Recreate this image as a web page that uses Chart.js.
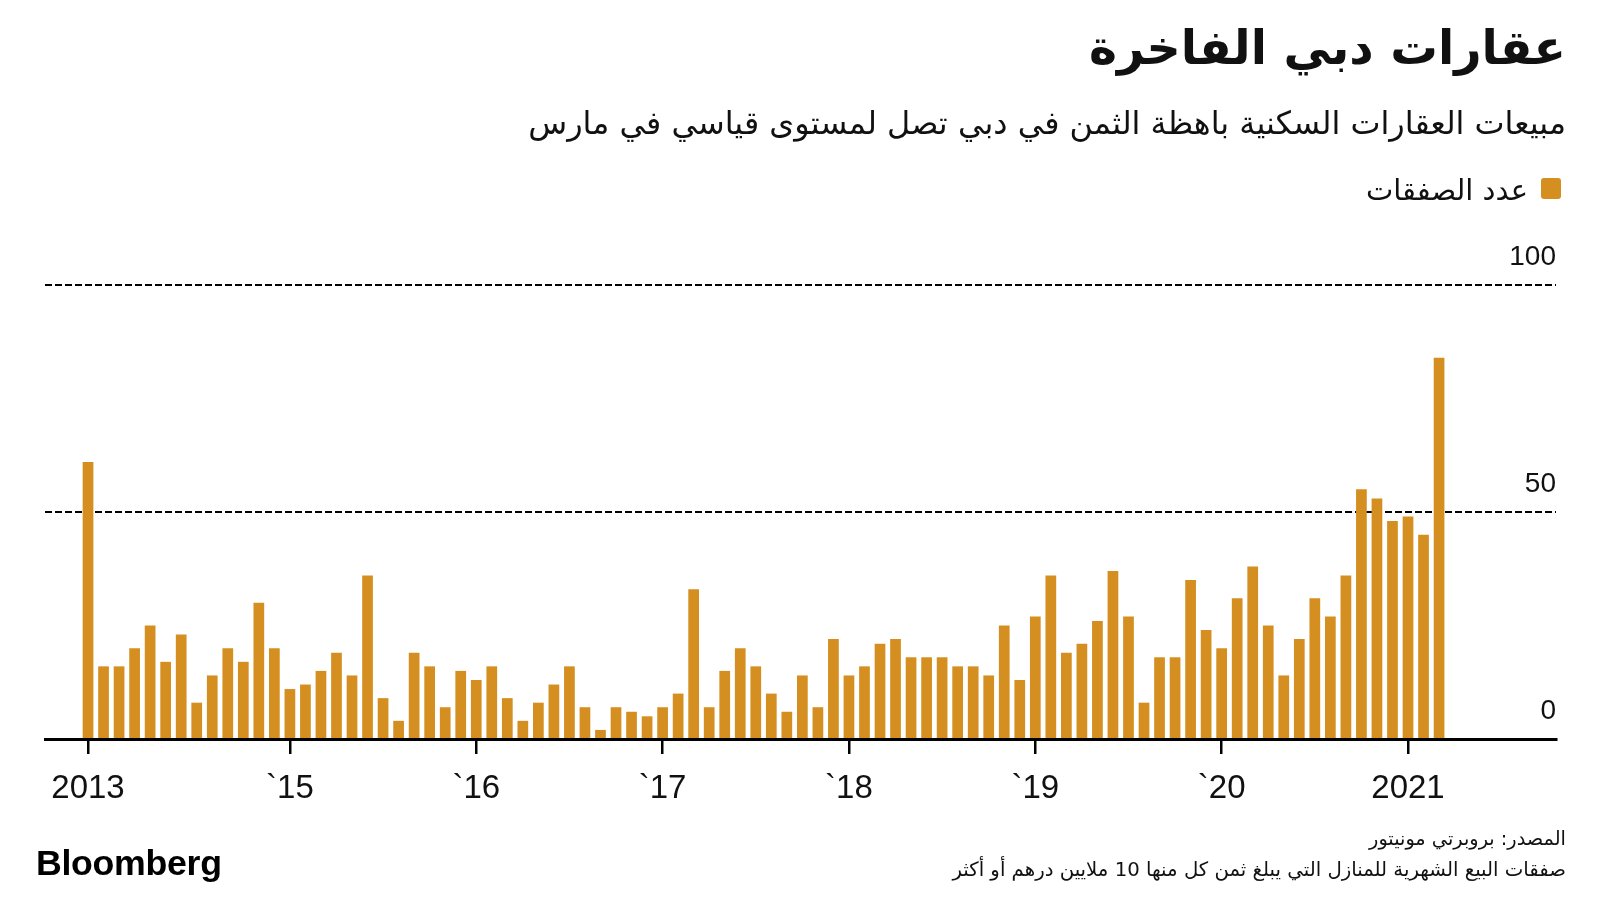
<!DOCTYPE html>
<html lang="ar">
<head>
<meta charset="utf-8">
<script src="https://cdn.jsdelivr.net/npm/chart.js@4.4.1/dist/chart.umd.min.js"></script>
<style>
  html, body { margin:0; padding:0; background:#fff; }
  body { width:1600px; height:900px; position:relative; overflow:hidden; }
  canvas#c { position:absolute; left:0; top:0; }
  .t { position:absolute; white-space:nowrap; direction:rtl; text-align:right; line-height:1; color:#111; font-family:"DejaVu Sans", sans-serif; }
  #title { right:34px; top:24px; font-weight:bold; }
  #subtitle { right:34px; top:108px; }
  #legend { right:72px; top:176px; }
  #swatch { position:absolute; left:1541px; top:178px; width:20px; height:21px; border-radius:3px; background:#d48f20; }
  #src { right:34px; top:829px; }
  #note { right:34px; top:860px; }
  #bbg { position:absolute; left:36px; top:846px; font-family:"Liberation Sans", Arial, sans-serif; font-weight:bold; color:#000; line-height:1; letter-spacing:-0.3px; }
</style>
</head>
<body>
<canvas id="c" width="1600" height="900"></canvas>
<div class="t" id="title" data-w="477">عقارات دبي الفاخرة</div>
<div class="t" id="subtitle" data-w="1038">مبيعات العقارات السكنية باهظة الثمن في دبي تصل لمستوى قياسي في مارس</div>
<div id="swatch"></div>
<div class="t" id="legend" data-w="162">عدد الصفقات</div>
<div class="t" id="src" data-w="197">المصدر: بروبرتي مونيتور</div>
<div class="t" id="note" data-w="614">صفقات البيع الشهرية للمنازل التي يبلغ ثمن كل منها 10 ملايين درهم أو أكثر</div>
<div id="bbg" data-w="186">Bloomberg</div>
<script>
// Monthly count of Dubai home sales worth AED 10m or more
const sales2013 = [61];                                            // Dec
const sales2014 = [16, 16, 20, 25, 17, 23, 8, 14, 20, 17, 30, 20];
const sales2015 = [11, 12, 15, 19, 14, 36, 9, 4, 19, 16, 7, 15];
const sales2016 = [13, 16, 9, 4, 8, 12, 16, 7, 2, 7, 6, 5];
const sales2017 = [7, 10, 33, 7, 15, 20, 16, 10, 6, 14, 7, 22];
const sales2018 = [14, 16, 21, 22, 18, 18, 18, 16, 16, 14, 25, 13];
const sales2019 = [27, 36, 19, 21, 26, 37, 27, 8, 18, 18, 35, 24];
const sales2020 = [20, 31, 38, 25, 14, 22, 31, 27, 36, 55, 53, 48];
const sales2021 = [49, 45, 84];                                    // Jan-Mar

const firstMonth = "2013-12";
const tickMonths = ["2013-12", "2015-01", "2016-01", "2017-01", "2018-01", "2019-01", "2020-01", "2021-01"];
const tickLabels = ["2013", "`15", "`16", "`17", "`18", "`19", "`20", "2021"];
const yTicks = [0, 50, 100];
const seriesLabel = "عدد الصفقات";

const values = [].concat(sales2013, sales2014, sales2015, sales2016, sales2017,
                         sales2018, sales2019, sales2020, sales2021);

// month categories
const months = [];
{
  let [y, m] = firstMonth.split("-").map(Number);
  for (let i = 0; i < values.length; i++) {
    months.push(y + "-" + String(m).padStart(2, "0"));
    m++; if (m > 12) { m = 1; y++; }
  }
}
const tickIdx = tickMonths.map(tm => months.indexOf(tm));
const points = values.map((v, i) => ({ x: i, y: v }));

// fit text widths
document.querySelectorAll("[data-w]").forEach(el => {
  const target = +el.dataset.w;
  el.style.fontSize = "40px";
  const w = el.getBoundingClientRect().width;
  el.style.fontSize = (40 * target / w).toFixed(2) + "px";
});

const BAR = "#d48f20";

new Chart(document.getElementById("c"), {
  type: "bar",
  data: {
    datasets: [{
      label: seriesLabel,
      data: points,
      backgroundColor: BAR,
      borderWidth: 0,
      barPercentage: 0.69,
      categoryPercentage: 1.0
    }]
  },
  options: {
    responsive: false,
    animation: false,
    devicePixelRatio: 1,
    layout: { padding: { left: 45, right: 44, top: 285, bottom: 81 } },
    plugins: { legend: { display: false }, tooltip: { enabled: false }, title: { display: false } },
    scales: {
      x: {
        type: "linear",
        offset: false,
        min: -2.77,
        max: 94.53,
        afterBuildTicks: axis => { axis.ticks = tickIdx.map(v => ({ value: v })); },
        afterFit: axis => { axis.height = 80; },
        ticks: {
          autoSkip: false,
          maxRotation: 0,
          padding: 15,
          color: "#111",
          font: { family: "'Liberation Sans', Arial, sans-serif", size: 33 },
          callback: (val) => { const k = tickIdx.indexOf(val); return k >= 0 ? tickLabels[k] : ""; }
        },
        grid: { offset: false, drawOnChartArea: false, drawTicks: true, tickLength: 15, color: "#000", lineWidth: 2.5 },
        border: { display: true, color: "#000", width: 3 }
      },
      y: {
        position: "right",
        min: 0,
        max: 100,
        afterBuildTicks: axis => { axis.ticks = yTicks.map(v => ({ value: v })); },
        afterFit: axis => { axis.width = 0; },
        ticks: {
          mirror: true,
          padding: 0,
          labelOffset: -28,
          color: "#111",
          font: { family: "'Liberation Sans', Arial, sans-serif", size: 28 }
        },
        grid: {
          drawTicks: false,
          color: ctx => (ctx.tick && ctx.tick.value === 0) ? "rgba(0,0,0,0)" : "#000",
          lineWidth: 2
        },
        border: { display: false, dash: [7, 3] }
      }
    }
  }
});
</script>
</body>
</html>
